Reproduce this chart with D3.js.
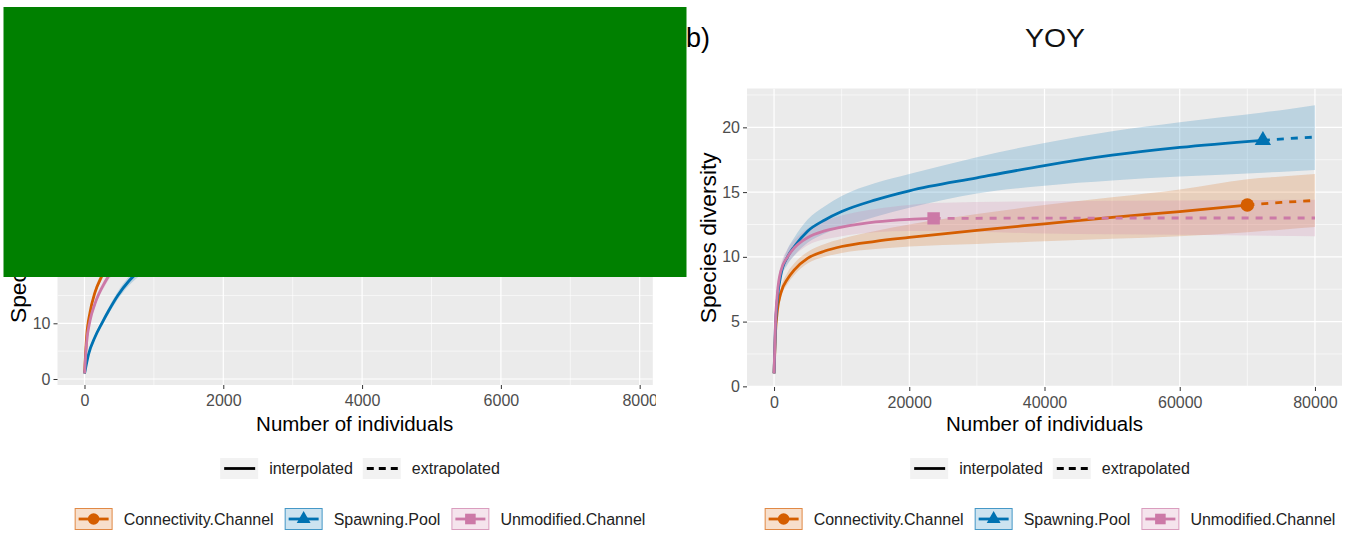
<!DOCTYPE html>
<html>
<head>
<meta charset="utf-8">
<script src="https://cdn.jsdelivr.net/npm/d3@7"></script>
<style>
  body { margin: 0; background: #ffffff; }
  text { font-family: "Liberation Sans", Arial, sans-serif; }
</style>
</head>
<body>
<svg id="fig" width="1356" height="536"></svg>
<script>
// ---- categories and styling keys ----
const seriesNames  = ["Connectivity.Channel", "Spawning.Pool", "Unmodified.Channel"];
const seriesColors = ["#D55E00", "#0072B2", "#CC79A7"];
const seriesShapes = ["circle", "triangle", "square"];
const methodLabels = ["interpolated", "extrapolated"];

// ---- panel a (adults) ----
const adultTicksX = [0, 2000, 4000, 6000, 8000];
const adultTicksY = [0, 10, 20, 30, 40, 50];
const adultConnSize = [1, 30, 80, 150, 250, 500, 1000, 2000, 3000, 3900, 5000, 6500, 7800];
const adultConnQD   = [1, 7.5, 12, 15.5, 18.5, 23, 28, 33, 36, 38, 39.5, 40.8, 41.6];
const adultConnLo   = [1, 7.1, 11.5, 14.9, 17.8, 22, 26.6, 31, 33.5, 35, 36, 36.8, 37.2];
const adultConnHi   = [1, 7.9, 12.5, 16.1, 19.2, 24, 29.4, 35, 38.5, 41, 43, 44.8, 46];
const adultConnObs  = 3900;
const adultPoolSize = [1, 60, 150, 250, 350, 480, 640, 800, 1000, 2000, 4000, 5600, 6800, 7800];
const adultPoolQD   = [1, 4.5, 7.5, 10, 12.3, 15, 17.6, 19.5, 21.5, 28, 35, 38, 39.3, 40.2];
const adultPoolLo   = [1, 4.2, 7.1, 9.5, 11.7, 14.3, 16.8, 18.6, 20.4, 26.3, 32.6, 35.2, 36, 36.5];
const adultPoolHi   = [1, 4.8, 7.9, 10.5, 12.9, 15.7, 18.4, 20.4, 22.6, 29.7, 37.4, 40.8, 42.6, 43.9];
const adultPoolObs  = 5600;
const adultUnmodSize = [1, 30, 80, 150, 300, 500, 1000, 2000, 3100, 4500, 6000, 7800];
const adultUnmodQD   = [1, 6.5, 10.5, 13.5, 17.5, 21, 26, 31, 34, 36, 37.3, 38.2];
const adultUnmodLo   = [1, 6.1, 10, 12.9, 16.8, 20.1, 24.8, 29.3, 31.8, 33.2, 34, 34.5];
const adultUnmodHi   = [1, 6.9, 11, 14.1, 18.2, 21.9, 27.2, 32.7, 36.2, 38.8, 40.6, 41.9];
const adultUnmodObs  = 3100;

// ---- panel b (YOY) ----
const yoyTitle = "YOY";
const yoyTicksX = [0, 20000, 40000, 60000, 80000];
const yoyTicksY = [0, 5, 10, 15, 20];
const yoyConnSize = [1, 200, 500, 1000, 2000, 3000, 5000, 7500, 10000, 15000, 20000, 30000, 40000, 50000, 60000, 70000, 75000, 80000];
const yoyConnQD   = [1, 4.0, 5.9, 7.2, 8.3, 9.0, 9.9, 10.45, 10.8, 11.2, 11.5, 12.05, 12.55, 13.05, 13.5, 14.0, 14.2, 14.35];
const yoyConnLo   = [1, 3.6, 5.4, 6.8, 7.9, 8.6, 9.5, 10.0, 10.3, 10.6, 10.8, 11.0, 11.2, 11.4, 11.6, 11.9, 12.1, 12.3];
const yoyConnHi   = [1, 4.4, 6.4, 7.6, 8.8, 9.5, 10.4, 11.0, 11.4, 12.0, 12.5, 13.3, 14.0, 14.6, 15.2, 16.0, 16.2, 16.4];
const yoyConnObs  = 70000;
const yoyPoolSize = [1, 200, 500, 1000, 2000, 3000, 5000, 7500, 10000, 15000, 20000, 30000, 40000, 50000, 60000, 72300, 76000, 80000];
const yoyPoolQD   = [1, 4.5, 6.8, 8.6, 10.0, 10.8, 12.0, 12.85, 13.5, 14.4, 15.1, 16.1, 17.05, 17.85, 18.45, 19.0, 19.13, 19.25];
const yoyPoolLo   = [1, 4.0, 6.3, 8.2, 9.4, 10.1, 11.1, 11.8, 12.3, 13.1, 13.8, 14.9, 15.5, 15.9, 16.2, 16.5, 16.6, 16.7];
const yoyPoolHi   = [1, 5.0, 7.3, 9.0, 10.6, 11.5, 12.9, 13.9, 14.7, 15.7, 16.4, 17.7, 18.8, 19.7, 20.4, 21.15, 21.4, 21.7];
const yoyPoolObs  = 72300;
const yoyUnmodSize = [1, 200, 500, 1000, 2000, 3000, 5000, 7500, 10000, 15000, 20000, 23600, 40000, 60000, 80000];
const yoyUnmodQD   = [1, 4.8, 7.2, 8.9, 10.0, 10.7, 11.5, 12.0, 12.3, 12.7, 12.9, 12.97, 12.99, 13.0, 13.0];
const yoyUnmodLo   = [1, 4.3, 6.7, 8.5, 9.5, 10.1, 10.9, 11.35, 11.6, 11.9, 12.0, 12.0, 11.8, 11.7, 11.6];
const yoyUnmodHi   = [1, 5.3, 7.7, 9.3, 10.6, 11.3, 12.2, 12.8, 13.2, 13.7, 14.0, 14.15, 14.3, 14.35, 14.4];
const yoyUnmodObs  = 23600;

const xTitle = "Number of individuals";
const yTitle = "Species diversity";

// ---- helpers ----
function makeSeries(i, size, qD, lo, hi, obs) {
  const rows = size.map((m, k) => ({ m, qD: qD[k], lo: lo[k], hi: hi[k] }));
  const obsRow = rows.find(r => r.m === obs);
  return {
    name: seriesNames[i], color: seriesColors[i], shape: seriesShapes[i],
    rows,
    interp: rows.filter(r => r.m <= obs),
    extrap: rows.filter(r => r.m >= obs),
    obs: obsRow
  };
}

function symbolFor(shape) {
  if (shape === "circle") return d3.symbol(d3.symbolCircle, 145)();
  if (shape === "triangle") return d3.symbol(d3.symbolTriangle, 115)();
  return d3.symbol(d3.symbolSquare, 155)();
}

const svg = d3.select("#fig");
const defs = svg.append("defs");

function drawPanel(root, cfg) {
  const b = cfg.box;
  const x = d3.scaleLinear().domain(cfg.xDomain).range([b.x0, b.x1]);
  const y = d3.scaleLinear().domain(cfg.yDomain).range([b.y1, b.y0]);
  const clipId = cfg.id + "-clip";
  defs.append("clipPath").attr("id", clipId).append("rect")
    .attr("x", b.x0).attr("y", b.y0).attr("width", b.x1 - b.x0).attr("height", b.y1 - b.y0);

  root.append("rect")
    .attr("x", b.x0).attr("y", b.y0).attr("width", b.x1 - b.x0).attr("height", b.y1 - b.y0)
    .attr("fill", "#EBEBEB");

  const grid = root.append("g").attr("clip-path", `url(#${clipId})`);
  const minorX = d3.pairs(cfg.ticksX).map(p => (p[0] + p[1]) / 2);
  const stepY = cfg.ticksY[1] - cfg.ticksY[0];
  const minorY = cfg.ticksY.map(v => v + stepY / 2).concat([cfg.ticksY[0] - stepY / 2]);
  grid.selectAll(".gxm").data(minorX).join("line")
    .attr("x1", d => x(d)).attr("x2", d => x(d)).attr("y1", b.y0).attr("y2", b.y1)
    .attr("stroke", "#ffffff").attr("stroke-width", 0.6);
  grid.selectAll(".gym").data(minorY).join("line")
    .attr("x1", b.x0).attr("x2", b.x1).attr("y1", d => y(d)).attr("y2", d => y(d))
    .attr("stroke", "#ffffff").attr("stroke-width", 0.6);
  grid.selectAll(".gx").data(cfg.ticksX).join("line")
    .attr("x1", d => x(d)).attr("x2", d => x(d)).attr("y1", b.y0).attr("y2", b.y1)
    .attr("stroke", "#ffffff").attr("stroke-width", 1.2);
  grid.selectAll(".gy").data(cfg.ticksY).join("line")
    .attr("x1", b.x0).attr("x2", b.x1).attr("y1", d => y(d)).attr("y2", d => y(d))
    .attr("stroke", "#ffffff").attr("stroke-width", 1.2);

  const plot = root.append("g").attr("clip-path", `url(#${clipId})`);
  const area = d3.area().x(d => x(d.m)).y0(d => y(d.lo)).y1(d => y(d.hi)).curve(d3.curveMonotoneX);
  const line = d3.line().x(d => x(d.m)).y(d => y(d.qD)).curve(d3.curveMonotoneX);

  cfg.series.forEach(s => {
    plot.append("path").attr("d", area(s.rows)).attr("fill", s.color).attr("fill-opacity", 0.2);
  });
  cfg.series.forEach(s => {
    plot.append("path").attr("d", line(s.interp)).attr("fill", "none")
      .attr("stroke", s.color).attr("stroke-width", 2.8);
    plot.append("path").attr("d", line(s.extrap)).attr("fill", "none")
      .attr("stroke", s.color).attr("stroke-width", 2.8).attr("stroke-dasharray", "7,7");
  });
  cfg.series.forEach(s => {
    plot.append("path").attr("d", symbolFor(s.shape))
      .attr("transform", `translate(${x(s.obs.m)},${y(s.obs.qD)})`)
      .attr("fill", s.color);
  });

  // axes
  const ax = root.append("g").attr("transform", `translate(0,${b.y1})`)
    .call(d3.axisBottom(x).tickValues(cfg.ticksX).tickFormat(d3.format("d")).tickSize(4).tickPadding(6));
  const ay = root.append("g").attr("transform", `translate(${b.x0},0)`)
    .call(d3.axisLeft(y).tickValues(cfg.ticksY).tickFormat(d3.format("d")).tickSize(4).tickPadding(3));
  [ax, ay].forEach(a => {
    a.select(".domain").remove();
    a.selectAll(".tick line").attr("stroke", "#333333").attr("stroke-width", 1);
    a.selectAll(".tick text").attr("fill", "#4D4D4D").style("font-size", "16px")
      .style("font-family", "'Liberation Sans', Arial, sans-serif");
  });

  root.append("text")
    .attr("x", (b.x0 + b.x1) / 2 + cfg.xTitleShift).attr("y", 431)
    .attr("text-anchor", "middle").style("font-size", "20.5px").attr("fill", "#000")
    .text(xTitle);
  root.append("text")
    .attr("transform", `translate(${cfg.yTitleX},${(b.y0 + b.y1) / 2}) rotate(-90)`)
    .attr("text-anchor", "middle").style("font-size", "22px").attr("fill", "#000")
    .attr("textLength", 171).attr("lengthAdjust", "spacingAndGlyphs")
    .text(yTitle);
}

function drawLegends(root, cx) {
  // linetype legend
  const row1 = root.append("g");
  let xp = 0;
  methodLabels.forEach((lab, i) => {
    row1.append("rect").attr("x", xp).attr("y", 458).attr("width", 38).attr("height", 21)
      .attr("fill", "#F2F2F2");
    row1.append("line").attr("x1", xp + 4).attr("x2", xp + 35).attr("y1", 468.5).attr("y2", 468.5)
      .attr("stroke", "#000").attr("stroke-width", 2.8)
      .attr("stroke-dasharray", i === 1 ? "7,5" : null);
    const t = row1.append("text").attr("x", xp + 49).attr("y", 474).style("font-size", "16px")
      .attr("fill", "#222").text(lab);
    xp += 49 + t.node().getComputedTextLength() + 10;
  });
  row1.attr("transform", `translate(${cx - (xp - 10) / 2},0)`);

  // series legend
  const row2 = root.append("g");
  xp = 0;
  seriesNames.forEach((name, i) => {
    const c = seriesColors[i];
    row2.append("rect").attr("x", xp + 0.5).attr("y", 508.5).attr("width", 37).attr("height", 21)
      .attr("fill", c).attr("fill-opacity", 0.2).attr("stroke", c).attr("stroke-opacity", 0.7)
      .attr("stroke-width", 1);
    row2.append("line").attr("x1", xp + 4).attr("x2", xp + 34).attr("y1", 519).attr("y2", 519)
      .attr("stroke", c).attr("stroke-width", 2.8);
    row2.append("path").attr("d", symbolFor(seriesShapes[i]))
      .attr("transform", `translate(${xp + 19},519) scale(0.85)`).attr("fill", c);
    const t = row2.append("text").attr("x", xp + 49).attr("y", 525).style("font-size", "16px")
      .attr("fill", "#222").text(name);
    xp += 49 + t.node().getComputedTextLength() + 11;
  });
  row2.attr("transform", `translate(${cx - (xp - 11) / 2},0)`);
}

// ---- left figure (adults), cropped on its right side ----
defs.append("clipPath").attr("id", "leftFigClip").append("rect")
  .attr("x", 0).attr("y", 0).attr("width", 656).attr("height", 536);
const leftFig = svg.append("g").attr("clip-path", "url(#leftFigClip)");
drawPanel(leftFig, {
  id: "adult",
  box: { x0: 57.5, x1: 652.8, y0: 90, y1: 385 },
  xDomain: [-389, 8189], yDomain: [-1.08, 51.9],
  ticksX: adultTicksX, ticksY: adultTicksY,
  xTitleShift: -0.5, yTitleX: 26,
  series: [
    makeSeries(0, adultConnSize, adultConnQD, adultConnLo, adultConnHi, adultConnObs),
    makeSeries(1, adultPoolSize, adultPoolQD, adultPoolLo, adultPoolHi, adultPoolObs),
    makeSeries(2, adultUnmodSize, adultUnmodQD, adultUnmodLo, adultUnmodHi, adultUnmodObs)
  ]
});
drawLegends(leftFig, 360);

// ---- right figure (YOY) ----
const rightFig = svg.append("g");
drawPanel(rightFig, {
  id: "yoy",
  box: { x0: 747, x1: 1342, y0: 88.5, y1: 387 },
  xDomain: [-4000, 84000], yDomain: [-0.05, 23.0],
  ticksX: yoyTicksX, ticksY: yoyTicksY,
  xTitleShift: 0, yTitleX: 716,
  series: [
    makeSeries(0, yoyConnSize, yoyConnQD, yoyConnLo, yoyConnHi, yoyConnObs),
    makeSeries(1, yoyPoolSize, yoyPoolQD, yoyPoolLo, yoyPoolHi, yoyPoolObs),
    makeSeries(2, yoyUnmodSize, yoyUnmodQD, yoyUnmodLo, yoyUnmodHi, yoyUnmodObs)
  ]
});
drawLegends(rightFig, 1050);
rightFig.append("text").attr("x", 1055).attr("y", 46.5).attr("text-anchor", "middle")
  .style("font-size", "26px").attr("fill", "#111").attr("textLength", 60).attr("lengthAdjust", "spacingAndGlyphs")
  .text(yoyTitle);
rightFig.append("text").attr("x", 686).attr("y", 47)
  .style("font-size", "27px").attr("fill", "#000").text("b)");

// solid green block over the upper part of the left figure
svg.append("rect").attr("x", 3.5).attr("y", 7).attr("width", 683).attr("height", 270)
  .attr("fill", "#008000");
</script>
</body>
</html>
